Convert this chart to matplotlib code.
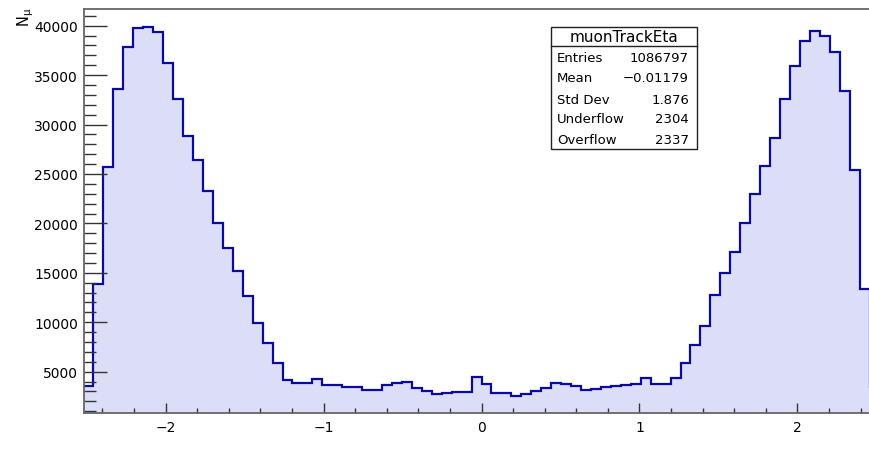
import numpy as np
import matplotlib
matplotlib.use("Agg")
import matplotlib.pyplot as plt
from matplotlib.ticker import MultipleLocator
from matplotlib.patches import Rectangle
from matplotlib.lines import Line2D

# Histogram definition: muon track pseudorapidity
n_bins = 80
eta_min, eta_max = -2.52, 2.52
counts = [
    3590, 13870, 25680, 33600, 37810, 39740, 39840, 39390, 36200, 32590,
    28870, 26420, 23310, 20040, 17510, 15190, 12660, 9930, 7930, 5880,
    4160, 3830, 3830, 4230, 3660, 3660, 3420, 3420, 3150, 3150,
    3630, 3830, 3930, 3350, 3080, 2720, 2820, 2980, 2920, 4500,
    3730, 2880, 2880, 2510, 2720, 3080, 3350, 3890, 3790, 3520,
    3150, 3250, 3420, 3520, 3630, 3730, 4330, 3790, 3790, 4370,
    5880, 7730, 9650, 12760, 14950, 17080, 20040, 22980, 25840, 28640,
    32590, 35950, 38480, 39490, 38990, 37370, 33430, 25400, 13370, 3300,
]

# Statistics box contents
stat_title = "muonTrackEta"
stat_labels = ["Entries", "Mean", "Std Dev", "Underflow", "Overflow"]
stat_values = ["1086797", "\u22120.01179", "1.876", "2304", "2337"]

y_label = r"N$_{\mu}$"
y_range = (790, 41690)

W, H = 869, 452
fig = plt.figure(figsize=(W / 100, H / 100), dpi=100)
plt.rcParams["font.family"] = ["DejaVu Sans"]
plt.rcParams["mathtext.default"] = "regular"

# Frame in pixel units (right part of the frame runs past the canvas)
left_px, right_px, top_px, bottom_px = 83.5, 879.5, 10.0, 414.3
ax = fig.add_axes([left_px / W, 1 - bottom_px / H,
                   (right_px - left_px) / W, (bottom_px - top_px) / H])

edges = np.linspace(eta_min, eta_max, n_bins + 1)
fill_col = "#dcdef8"
line_col = "#0a0aa0"
ax.stairs(counts, edges, fill=True, baseline=0, color=fill_col, lw=0)
ax.stairs(counts, edges, baseline=None, color=line_col, lw=1.6)

ax.set_xlim(eta_min, eta_max)
ax.set_ylim(*y_range)

ax.xaxis.set_major_locator(MultipleLocator(1))
ax.xaxis.set_minor_locator(MultipleLocator(0.2))
ax.yaxis.set_major_locator(MultipleLocator(5000))
ax.yaxis.set_minor_locator(MultipleLocator(1000))

tick_col = "#333333"
ax.tick_params(axis="x", which="major", direction="in", length=7.2, width=1.0,
               color=tick_col, labelsize=10, pad=4.5)
ax.tick_params(axis="x", which="minor", direction="in", length=3.6, width=1.0,
               color=tick_col)
ax.tick_params(axis="y", which="major", direction="in", length=16.6, width=1.0,
               color=tick_col, labelsize=10, pad=4)
ax.tick_params(axis="y", which="minor", direction="in", length=8.6, width=1.0,
               color=tick_col)
for side in ("left", "bottom", "top", "right"):
    ax.spines[side].set_color("#666666")
    ax.spines[side].set_linewidth(1.3)

# Y-axis title at the top end of the axis
fig.text(26 / W, 1 - 8 / H, y_label, rotation=90, ha="center", va="top",
         fontsize=10.5)

# Statistics box
bx0, bx1, by0, by1, bdiv = 551, 697, 28.3, 149.5, 46.7
tf = fig.transFigure
fig.patches.append(Rectangle((bx0 / W, 1 - by1 / H), (bx1 - bx0) / W,
                             (by1 - by0) / H, transform=tf, facecolor="white",
                             edgecolor="#222222", lw=1.0, zorder=5))
fig.lines.append(Line2D([bx0 / W, bx1 / W], [1 - bdiv / H, 1 - bdiv / H],
                        transform=tf, color="#222222", lw=1.0, zorder=6))
fig.text((bx0 + bx1) / 2 / W, 1 - 38 / H, stat_title, ha="center",
         va="center", fontsize=11, zorder=7)
row_y = [58.5, 79, 100, 120, 140.5]
for lab, val, yy in zip(stat_labels, stat_values, row_y):
    fig.text(557 / W, 1 - yy / H, lab, ha="left", va="center", fontsize=9.5,
             zorder=7)
    fig.text(689 / W, 1 - yy / H, val, ha="right", va="center", fontsize=9.5,
             zorder=7)

fig.savefig("out.png", dpi=100)
